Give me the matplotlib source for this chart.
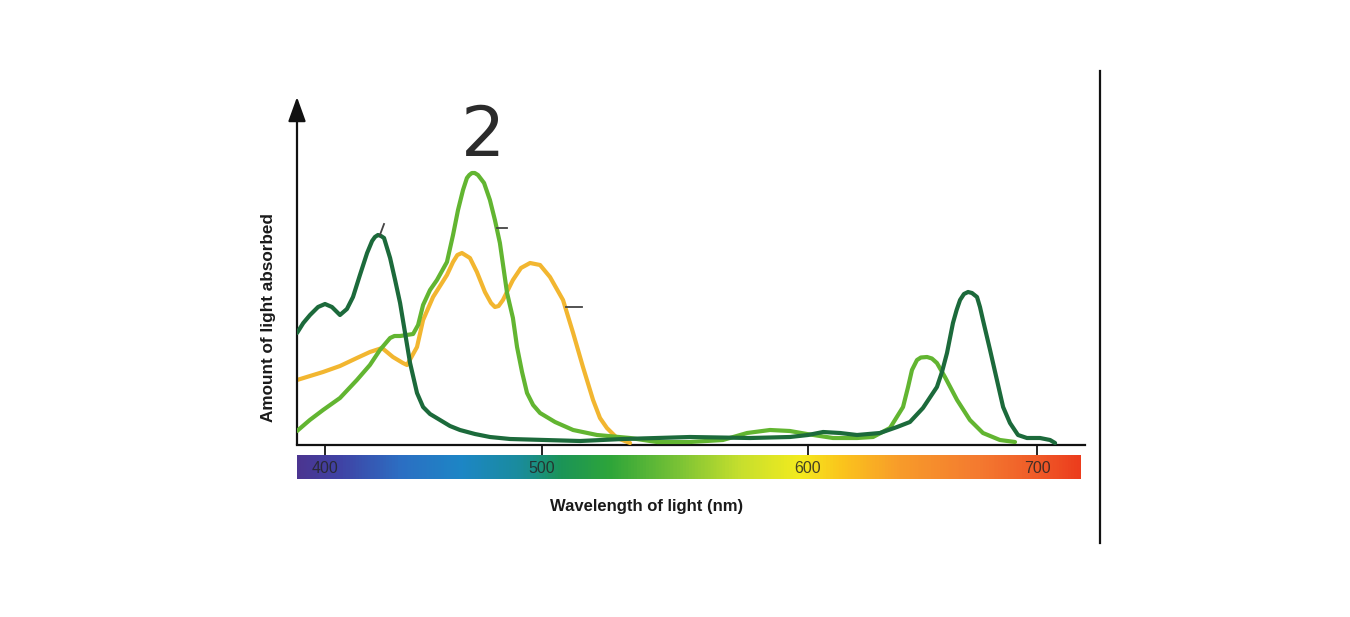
import numpy as np
import matplotlib
matplotlib.use("Agg")
import matplotlib.pyplot as plt
from matplotlib.colors import LinearSegmentedColormap
from matplotlib.lines import Line2D
import matplotlib.transforms as mtransforms
from matplotlib.patches import ArrowStyle

# ---------------- data ----------------
# wavelength axis of the original is not linear: tick positions (relative units)
scale_nm = [300, 400, 500, 600, 700, 800]
scale_pos = [108, 325, 542, 808, 1037, 1266]

tick_nm = [400, 500, 600, 700]
tick_labels = ["400", "500", "600", "700"]

# chlorophyll a (dark green)
chla_nm = [387.1, 390.0, 393.1, 396.8, 400.0, 403.2, 406.9, 410.1, 412.9, 416.1, 419.4,
           421.7, 423.0, 424.4, 425.8, 427.2, 430.0, 432.3, 434.6, 436.9, 439.2, 442.4, 445.2,
           448.4, 453.0, 457.6, 462.2, 469.1, 476.0, 485.3, 501.1, 514.3, 530.5,
           543.2, 555.6, 578.2, 593.2, 600.0, 606.6, 614.0, 621.4, 631.4, 638.9, 644.5, 650.2,
           656.3, 658.5, 660.7, 663.3, 664.9, 666.4, 668.1, 669.9, 671.6, 673.8, 675.1, 676.4,
           679.5, 682.5, 685.2, 688.2, 691.7, 695.6, 701.3, 705.7, 707.9]
chla_abs = [112, 122, 130, 138, 141, 138, 130, 136, 148, 170, 192,
            204, 208, 210, 209, 207, 187, 165, 142, 112, 82, 52, 38,
            31, 25, 19, 15, 11, 8, 6, 5, 4, 6,
            7, 8, 7, 8, 10, 13, 12, 10, 12, 18, 23, 37,
            58, 73, 92, 122, 135, 145, 151, 153, 152, 148, 138, 125,
            95, 65, 38, 22, 10, 7, 7, 5, 2]

# chlorophyll b (light green)
chlb_nm = [387.1, 393.0, 399.1, 406.9, 414.7, 420.7, 425.3, 430.0, 432.0, 434.6, 440.6, 442.9,
           445.2, 448.4, 451.6, 456.2, 459.0, 461.3, 463.6, 465.4, 466.5, 467.7, 469.0, 470.5,
           473.3, 476.0, 478.3, 480.6, 483.9, 486.6, 488.5, 490.8, 493.1, 495.9,
           499.1, 504.9, 511.7, 520.7, 533.1, 543.2, 555.6, 568.0, 577.1, 585.7,
           593.2, 599.6, 610.9, 621.4, 628.4, 635.8, 641.5, 643.7, 645.4, 647.6,
           649.3, 652.0, 654.1, 656.3, 659.8, 665.1, 670.7, 676.4, 683.8, 690.4]
chlb_abs = [14, 25, 35, 47, 65, 80, 95, 107, 109, 109, 111, 120,
            140, 155, 165, 183, 210, 235, 255, 267, 270, 272, 272, 270,
            262, 245, 225, 202, 152, 127, 98, 73, 52, 40,
            32, 23, 15, 10, 7, 3, 3, 5, 12, 15,
            14, 11, 7, 7, 8, 17, 38, 58, 75, 85,
            87.5, 88, 86.5, 82, 68, 45, 25, 12, 5, 3]

# carotenoids (orange)
carot_nm = [387.1, 399.1, 406.9, 414.7, 420.7, 426.3, 431.3, 435.9, 437.8, 442.4,
            445.2, 449.8, 456.2, 459.0, 461.0, 463.1, 466.8, 470.0, 473.7, 476.5, 478.3, 480.0, 482.0,
            486.6, 490.3, 494.5, 499.1, 503.0, 507.9, 511.7, 515.4, 519.2, 521.8,
            524.4, 528.2, 533.1]
carot_abs = [65, 73, 79, 87, 93, 97, 88, 82, 80, 98,
             125, 148, 170, 183, 190, 192, 187, 173, 153, 142, 138, 139, 145,
             165, 177, 182, 180, 168, 145, 112, 78, 45, 27,
             17, 7, 2]

# leftover label leader marks
lead_a_nm, lead_a_abs = [425.3, 427.2], [210, 221]
lead_b_nm, lead_b_abs = [479.3, 483.9], [217, 217]
lead_c_nm, lead_c_abs = [509.0, 515.0], [138, 138]

spectrum_stops = [0.0, 0.055, 0.131, 0.208, 0.284, 0.335, 0.399, 0.476,
                  0.565, 0.642, 0.693, 0.769, 0.871, 0.948, 1.0]
spectrum_colors = ["#4b3591", "#3f44a6", "#2c6fc3", "#1d86c6", "#1a8c9c",
                   "#1b9458", "#2ea53a", "#70bf36", "#c6df2e", "#f3eb1e",
                   "#fbc61c", "#f89c2a", "#f47a30", "#f05a28", "#ec3d1d"]

# ---------------- figure ----------------
W, H = 1350, 617
fig = plt.figure(figsize=(W / 100, H / 100), dpi=100)


def fx(px):
    return px / W


def fy(py):
    return (H - py) / H


ax = fig.add_axes([fx(297), fy(445), fx(1085) - fx(297), fy(97) - fy(445)])


def fwd(x):
    return np.interp(x, scale_nm, scale_pos)


def inv(p):
    return np.interp(p, scale_pos, scale_nm)


ax.set_xscale("function", functions=(fwd, inv))
ax.set_xlim(inv(297), inv(1085))
ax.set_ylim(0, 348)

lw = 3.0
style = dict(lw=lw, solid_capstyle="round", solid_joinstyle="round")
ax.plot(carot_nm, carot_abs, color="#f2b630", zorder=3, **style)
ax.plot(chlb_nm, chlb_abs, color="#62b531", zorder=4, **style)
ax.plot(chla_nm, chla_abs, color="#1c6a3b", zorder=5, **style)

for xs, ys in [(lead_a_nm, lead_a_abs), (lead_b_nm, lead_b_abs), (lead_c_nm, lead_c_abs)]:
    ax.plot(xs, ys, color="#444444", lw=1.3, zorder=6)

for s in ["top", "right", "left"]:
    ax.spines[s].set_visible(False)
ax.spines["bottom"].set_linewidth(1.6)
ax.spines["bottom"].set_color("#111111")
ax.set_yticks([])
ax.set_xticks(tick_nm)
ax.set_xticklabels([])
ax.tick_params(axis="x", direction="out", length=7.2, width=1.3, color="#111111")
ax.xaxis.set_minor_locator(matplotlib.ticker.NullLocator())

# y axis with arrow
ax.annotate("", xy=(0, 1), xytext=(0, 0), xycoords="axes fraction",
            arrowprops=dict(arrowstyle=ArrowStyle("-|>", head_length=15, head_width=5.4),
                            mutation_scale=1, lw=1.6, color="#111111",
                            shrinkA=0, shrinkB=0), annotation_clip=False)

# spectrum bar
bax = fig.add_axes([fx(297), fy(479), fx(1081) - fx(297), fy(455) - fy(479)])
cmap = LinearSegmentedColormap.from_list("spec", list(zip(spectrum_stops, spectrum_colors)))
grad = np.linspace(0, 1, 800).reshape(1, -1)
bax.imshow(grad, aspect="auto", cmap=cmap, extent=[0, 1, 0, 1])
bax.set_axis_off()

trans = mtransforms.blended_transform_factory(ax.transData, bax.transAxes)
for t, lab in zip(tick_nm, tick_labels):
    fig.text(t, 0.45, lab, transform=trans, ha="center", va="center",
             fontsize=11.5, family="Liberation Sans", color="#262626", alpha=0.85)

fig.text(fx(647), fy(507), "Wavelength of light (nm)", ha="center", va="center",
         fontsize=12, fontweight="bold", family="Liberation Sans", color="#1a1a1a")
fig.text(fx(268), fy(318), "Amount of light absorbed", ha="center", va="center",
         rotation=90, fontsize=12.3, fontweight="bold", family="Liberation Sans",
         color="#1a1a1a")
fig.text(fx(483), fy(136), "2", ha="center", va="center", fontsize=50,
         family="DejaVu Sans", color="#2b2b2b")

fig.add_artist(Line2D([fx(1100), fx(1100)], [fy(543), fy(71)], color="#111111", lw=1.6))

fig.savefig("out.png", dpi=100)
